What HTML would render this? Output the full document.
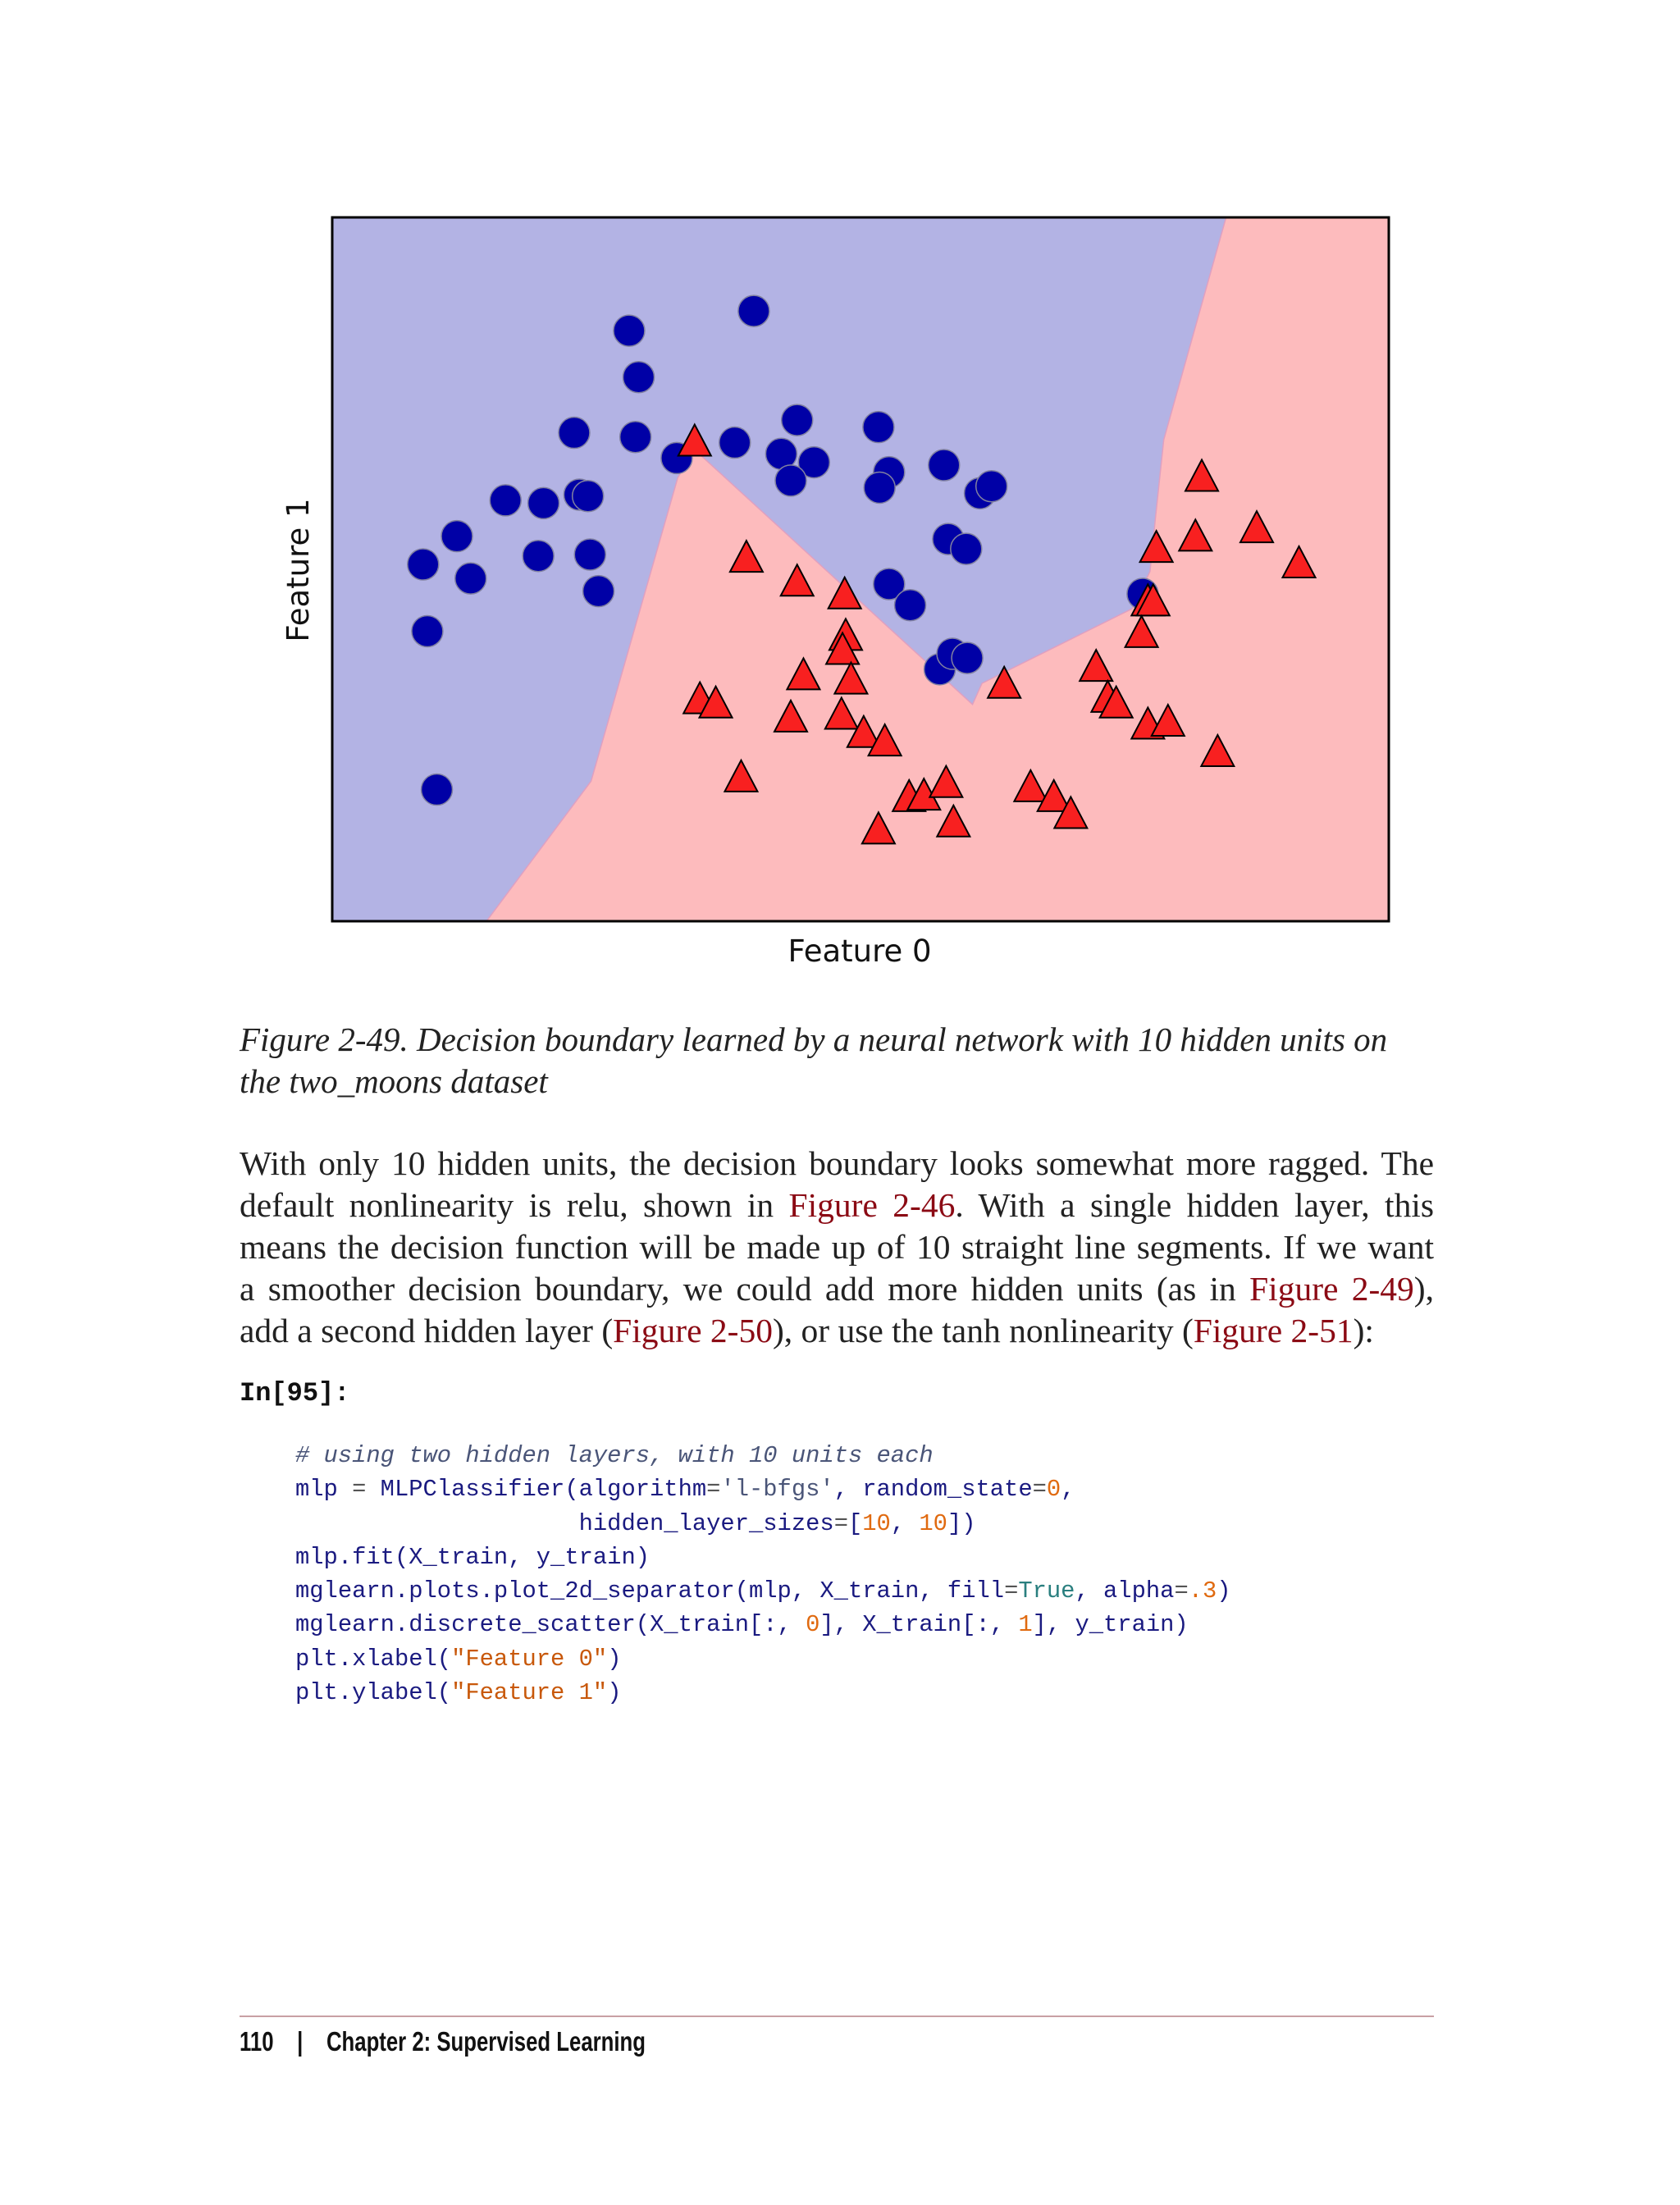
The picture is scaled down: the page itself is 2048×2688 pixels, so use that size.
<!DOCTYPE html>
<html><head><meta charset="utf-8">
<style>
html,body{margin:0;padding:0;background:#fff;}
body{width:2048px;height:2688px;position:relative;overflow:hidden;}
.abs{position:absolute;}
.cap{font-family:"Liberation Serif",serif;font-style:italic;font-size:41px;color:#222;left:292px;width:1500px;line-height:51px;}
.body{font-family:"Liberation Serif",serif;font-size:41.5px;color:#222;left:292px;width:1456px;line-height:51px;}
.body div{text-align:justify;text-align-last:justify;white-space:nowrap;}
.ln{color:#8b0a14;}
.code{font-family:"Liberation Mono",monospace;font-size:28.8px;left:360px;line-height:41.3px;color:#1a1a80;white-space:pre;}
.cm{color:#4a5578;font-style:italic;}
.st{color:#c8580a;}
.nu{color:#e06a10;}
.kw{color:#2a7f7f;}
.op{color:#555;}
</style></head>
<body>
<svg class="abs" style="left:0;top:0" width="2048" height="1200">
<g id="plot"></g>
<text x="1048" y="1172" font-family="DejaVu Sans, sans-serif" font-size="37" text-anchor="middle" fill="#111">Feature 0</text>
<text x="0" y="0" transform="translate(376,695) rotate(-90)" font-family="DejaVu Sans, sans-serif" font-size="37" text-anchor="middle" fill="#111">Feature 1</text>
</svg>

<div class="abs cap" style="top:1242px">Figure 2-49. Decision boundary learned by a neural network with 10 hidden units on<br>the two_moons dataset</div>

<div class="abs body" style="top:1393px">
<div>With only 10 hidden units, the decision boundary looks somewhat more ragged. The</div>
<div>default nonlinearity is relu, shown in <span class="ln">Figure 2-46</span>. With a single hidden layer, this</div>
<div>means the decision function will be made up of 10 straight line segments. If we want</div>
<div>a smoother decision boundary, we could add more hidden units (as in <span class="ln">Figure 2-49</span>),</div>
<div style="text-align-last:left">add a second hidden layer (<span class="ln">Figure 2-50</span>), or use the tanh nonlinearity (<span class="ln">Figure 2-51</span>):</div>
</div>

<div class="abs" style="left:292px;top:1680px;font-family:'Liberation Mono',monospace;font-weight:bold;font-size:32px;color:#111">In[95]:</div>

<div class="abs code" style="top:1754px"><span class="cm"># using two hidden layers, with 10 units each</span>
mlp <span class="op">=</span> MLPClassifier(algorithm<span class="op">=</span><span class="cm" style="font-style:normal">'l-bfgs'</span>, random_state<span class="op">=</span><span class="nu">0</span>,
                    hidden_layer_sizes<span class="op">=</span>[<span class="nu">10</span>, <span class="nu">10</span>])
mlp.fit(X_train, y_train)
mglearn.plots.plot_2d_separator(mlp, X_train, fill<span class="op">=</span><span class="kw">True</span>, alpha<span class="op">=</span><span class="nu">.3</span>)
mglearn.discrete_scatter(X_train[:, <span class="nu">0</span>], X_train[:, <span class="nu">1</span>], y_train)
plt.xlabel(<span class="st">"Feature 0"</span>)
plt.ylabel(<span class="st">"Feature 1"</span>)</div>

<div class="abs" style="left:292px;top:2457px;width:1456px;height:2px;background:#c9a0a4"></div>
<div class="abs" style="left:292px;top:2470px;font-family:'Liberation Sans',sans-serif;font-weight:bold;font-size:33px;color:#111;transform:scaleX(0.78);transform-origin:left top;white-space:pre">110    |    Chapter 2: Supervised Learning</div>

<script>
// data in feature units (0..100 scaled)
const circleX=[39.9,28.1,29.0,22.9,28.7,32.6,38.1,44.0,42.5,45.6,43.4,51.7,52.7,51.8,57.9,61.3,62.4,16.4,20.0,23.4,24.2,11.8,8.6,13.1,19.5,24.4,25.2,9.0,58.3,60.0,52.7,54.7,76.7,57.5,58.7,60.1,9.9];
const circleY=[86.7,83.9,77.3,69.4,68.8,65.8,68.0,71.2,66.4,65.2,62.6,70.2,63.8,61.6,64.8,60.8,61.8,59.8,59.4,60.6,60.4,54.7,50.7,48.7,51.9,52.1,46.9,41.2,54.3,52.9,47.9,44.9,46.5,35.8,38.0,37.4,18.7];
const triX=[34.3,82.3,78.0,81.7,87.5,91.5,39.2,44.0,48.5,77.2,77.7,48.6,48.3,44.6,49.1,76.6,63.6,72.3,34.8,36.3,43.4,48.2,50.3,52.3,73.4,74.2,77.2,79.1,83.8,38.7,54.6,56.0,58.1,66.1,68.3,69.9,51.7,58.8];
const triY=[68.0,63.0,52.9,54.5,55.7,50.7,51.5,48.1,46.3,45.3,45.3,40.4,38.4,34.8,34.2,40.8,33.6,36.0,31.4,30.8,28.8,29.2,26.6,25.4,31.6,30.8,27.8,28.2,23.9,20.3,17.5,17.7,19.5,18.9,17.5,15.1,12.9,13.9];
const boundaryX=[14.6,24.5,32.7,34.3,60.6,61.5,75.7,77.4,77.9,78.7,84.6,100,100];
const boundaryY=[0,19.9,63.0,67.0,30.8,33.8,44.4,49.7,57.1,68.4,100,100,0];

const X0=405,X1=1693,Y0=1123,Y1=265;
function sx(v){return X0+(X1-X0)*v/100;}
function sy(v){return Y0-(Y0-Y1)*v/100;}
const NS="http://www.w3.org/2000/svg";
const g=document.getElementById('plot');
function mk(t,a){const e=document.createElementNS(NS,t);for(const k in a)e.setAttribute(k,a[k]);g.appendChild(e);return e;}

let bg=mk('rect',{x:X0,y:Y1,width:X1-X0,height:Y0-Y1,fill:'#b3b3e4'});


let pts=boundaryX.map((x,i)=>sx(x)+','+sy(boundaryY[i])).join(' ');
let pg=mk('polygon',{points:pts,fill:'#fdbbbd',stroke:'#e0a0c0','stroke-width':1.5});



circleX.forEach((x,i)=>{
  const c=mk('circle',{cx:sx(x),cy:sy(circleY[i]),r:19,fill:'#0000a6',stroke:'#8080a0','stroke-width':1.5});
  
  
});
triX.forEach((x,i)=>{
  const cx=sx(x),cy=sy(triY[i]);
  const p=mk('polygon',{points:`${cx},${cy-22} ${cx-20},${cy+16} ${cx+20},${cy+16}`,fill:'#f82020',stroke:'#000','stroke-width':2});
  
  
});
let fr=mk('rect',{x:X0,y:Y1,width:X1-X0,height:Y0-Y1,fill:'none',stroke:'#000','stroke-width':3});


</script>
</body></html>
